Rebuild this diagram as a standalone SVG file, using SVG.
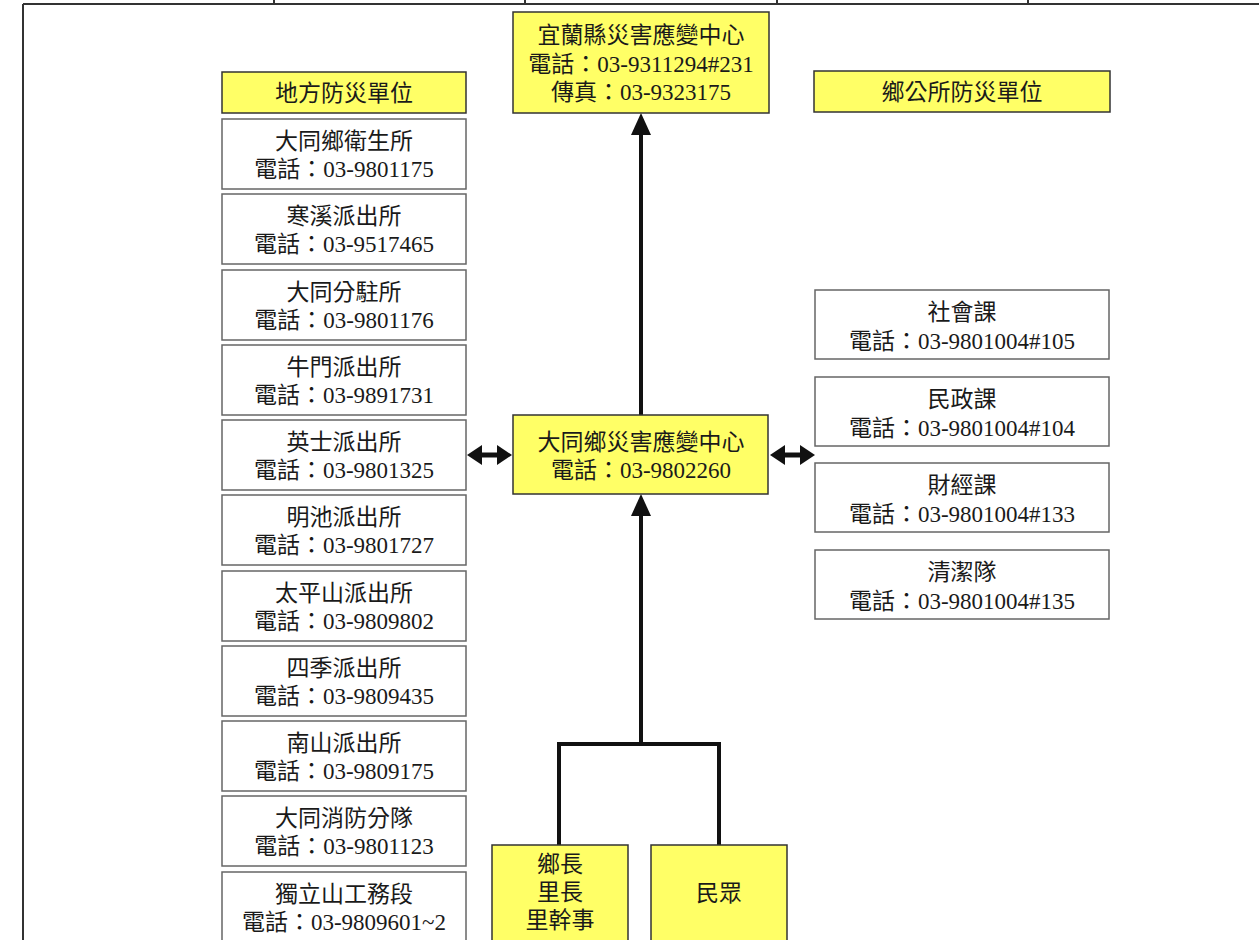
<svg xmlns="http://www.w3.org/2000/svg" width="1259" height="940" viewBox="0 0 1259 940">
<defs>
<style>
.y{fill:#FFFF66;stroke:#333;stroke-width:1.5}
.w{fill:#fff;stroke:#666;stroke-width:1.5}
text{font-family:"Liberation Serif","Noto Sans CJK TC",serif;font-size:23px;fill:#1a1a1a;text-anchor:middle}
.c{fill:none;stroke:#111;stroke-width:4}
.d{fill:none;stroke:#111;stroke-width:5}
.t{stroke:#333;stroke-width:2}
</style>
<marker id="big" viewBox="0 0 22 20" refX="0" refY="10" markerWidth="22" markerHeight="20" markerUnits="userSpaceOnUse" orient="auto"><path d="M0,0 L22,10 L0,20 z" fill="#111"/></marker>
<marker id="sm" viewBox="0 0 15 20" refX="0" refY="10" markerWidth="15" markerHeight="20" markerUnits="userSpaceOnUse" orient="auto-start-reverse"><path d="M0,0 L15,10 L0,20 z" fill="#111"/></marker>
</defs>
<rect width="1259" height="940" fill="#fff"/>
<g id="frame">
<line class="t" x1="23" y1="4" x2="1259" y2="4"/>
<line class="t" x1="23" y1="4" x2="23" y2="940" stroke-width="2.5"/>
<line class="t" x1="274" y1="0" x2="274" y2="4"/>
<line class="t" x1="525" y1="0" x2="525" y2="4"/>
<line class="t" x1="777" y1="0" x2="777" y2="4"/>
<line class="t" x1="1028" y1="0" x2="1028" y2="4"/>
</g>
<g id="connectors">
<path class="c" d="M641,415 V135" marker-end="url(#big)"/>
<path class="c" d="M559,845 V744 H719 V845"/>
<path class="c" d="M641,744 V516" marker-end="url(#big)"/>
<path class="d" d="M482,455 H497" marker-start="url(#sm)" marker-end="url(#sm)"/>
<path class="d" d="M785,455 H800" marker-start="url(#sm)" marker-end="url(#sm)"/>
</g>
<g id="yilan"><rect class="y" x="513" y="12" width="256" height="101"/>
<text x="641" y="43">宜蘭縣災害應變中心</text><text x="641" y="72">電話：03-9311294#231</text><text x="641" y="100">傳真：03-9323175</text></g>
<g id="hdr-left"><rect class="y" x="222" y="72" width="244" height="41"/><text x="344" y="101">地方防災單位</text></g>
<g id="hdr-right"><rect class="y" x="814" y="71" width="296" height="41"/><text x="962" y="100">鄉公所防災單位</text></g>
<g id="center"><rect class="y" x="513" y="415" width="255" height="79"/>
<text x="641" y="450">大同鄉災害應變中心</text><text x="641" y="478">電話：03-9802260</text></g>
<g id="l1"><rect class="w" x="222" y="119" width="244" height="70"/><text x="344" y="149">大同鄉衛生所</text><text x="344" y="177">電話：03-9801175</text></g>
<g id="l2"><rect class="w" x="222" y="194" width="244" height="70"/><text x="344" y="224">寒溪派出所</text><text x="344" y="252">電話：03-9517465</text></g>
<g id="l3"><rect class="w" x="222" y="270" width="244" height="70"/><text x="344" y="300">大同分駐所</text><text x="344" y="328">電話：03-9801176</text></g>
<g id="l4"><rect class="w" x="222" y="345" width="244" height="70"/><text x="344" y="375">牛門派出所</text><text x="344" y="403">電話：03-9891731</text></g>
<g id="l5"><rect class="w" x="222" y="420" width="244" height="70"/><text x="344" y="450">英士派出所</text><text x="344" y="478">電話：03-9801325</text></g>
<g id="l6"><rect class="w" x="222" y="495" width="244" height="70"/><text x="344" y="525">明池派出所</text><text x="344" y="553">電話：03-9801727</text></g>
<g id="l7"><rect class="w" x="222" y="571" width="244" height="70"/><text x="344" y="601">太平山派出所</text><text x="344" y="629">電話：03-9809802</text></g>
<g id="l8"><rect class="w" x="222" y="646" width="244" height="70"/><text x="344" y="676">四季派出所</text><text x="344" y="704">電話：03-9809435</text></g>
<g id="l9"><rect class="w" x="222" y="721" width="244" height="70"/><text x="344" y="751">南山派出所</text><text x="344" y="779">電話：03-9809175</text></g>
<g id="l10"><rect class="w" x="222" y="796" width="244" height="70"/><text x="344" y="826">大同消防分隊</text><text x="344" y="854">電話：03-9801123</text></g>
<g id="l11"><rect class="w" x="222" y="872" width="244" height="70"/><text x="344" y="902">獨立山工務段</text><text x="344" y="930">電話：03-9809601~2</text></g>
<g id="r1"><rect class="w" x="815" y="290" width="294" height="69"/><text x="962" y="320">社會課</text><text x="962" y="349">電話：03-9801004#105</text></g>
<g id="r2"><rect class="w" x="815" y="377" width="294" height="69"/><text x="962" y="407">民政課</text><text x="962" y="436">電話：03-9801004#104</text></g>
<g id="r3"><rect class="w" x="815" y="463" width="294" height="69"/><text x="962" y="493">財經課</text><text x="962" y="522">電話：03-9801004#133</text></g>
<g id="r4"><rect class="w" x="815" y="550" width="294" height="69"/><text x="962" y="580">清潔隊</text><text x="962" y="609">電話：03-9801004#135</text></g>
<g id="b1"><rect class="y" x="492" y="845" width="136" height="100"/><text x="560" y="872">鄉長</text><text x="560" y="900">里長</text><text x="560" y="928">里幹事</text></g>
<g id="b2"><rect class="y" x="651" y="845" width="136" height="100"/><text x="719" y="901">民眾</text></g>
</svg>
